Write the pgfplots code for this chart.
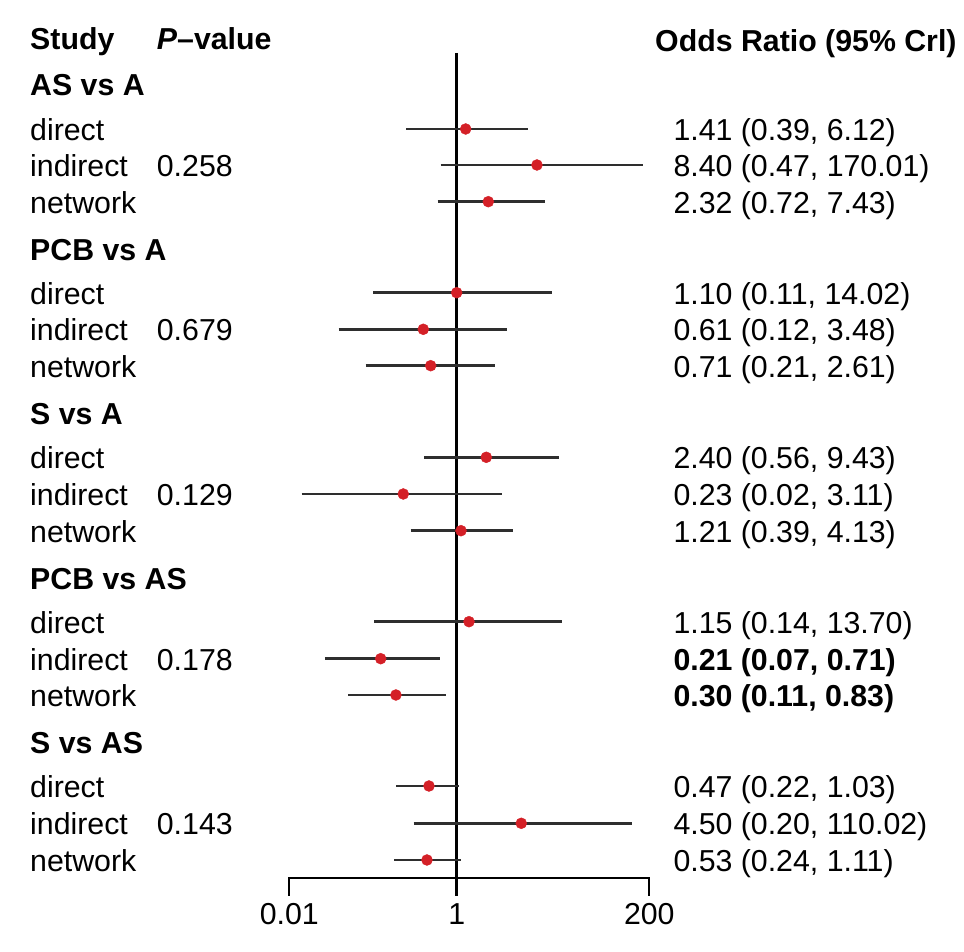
\documentclass[border=0pt]{standalone}
\usepackage{pgfplots}
\pgfplotsset{compat=1.18}
\usepackage{fontspec}
\setmainfont{Liberation Sans}
\definecolor{ptred}{HTML}{D42027}
\definecolor{cigray}{HTML}{2E2E2E}
\newcommand\f{\fontsize{30.3}{35}\selectfont}
\newcommand\T[3]{\node[anchor=base west,inner sep=0pt,font=\f] at (#1pt,{(952-#2)*1pt}) {#3};}
\newcommand\C[3]{\node[anchor=base,inner sep=0pt,font=\f] at (#1pt,{(952-#2)*1pt}) {#3};}
\begin{document}
\begin{tikzpicture}
\useasboundingbox (0,0) rectangle (964pt,952pt);
\begin{axis}[
  at={(0,0)}, anchor=south west,
  scale only axis, width=964pt, height=952pt,
  xmode=log, xmin=3.497e-6, xmax=1.151e6,
  ymin=-952, ymax=0,
  hide axis, clip=false,
  ci/.style={cigray, line width=2.7pt},
]
% reference line at OR = 1 and bottom axis
\addplot[black, line width=2.8pt] coordinates {(1,-53) (1,-896)};
\addplot[black, line width=2.4pt] coordinates {(0.01,-896) (0.01,-878.3) (200,-878.3) (200,-896)};
% AS vs A
\addplot[ci] coordinates {(0.248,-129) (7.11,-129)};
\addplot[ci] coordinates {(0.644,-165) (168.2,-165)};
\addplot[ci] coordinates {(0.593,-201.7) (11.35,-201.7)};
% PCB vs A
\addplot[ci] coordinates {(0.1008,-292.7) (13.65,-292.7)};
\addplot[ci] coordinates {(0.0389,-329.3) (3.99,-329.3)};
\addplot[ci] coordinates {(0.0818,-365.7) (2.87,-365.7)};
% S vs A
\addplot[ci] coordinates {(0.407,-457.3) (16.8,-457.3)};
\addplot[ci] coordinates {(0.01406,-494) (3.48,-494)};
\addplot[ci] coordinates {(0.282,-530.7) (4.75,-530.7)};
% PCB vs AS
\addplot[ci] coordinates {(0.1036,-621.7) (17.97,-621.7)};
\addplot[ci] coordinates {(0.0267,-658.7) (0.637,-658.7)};
\addplot[ci] coordinates {(0.0507,-695) (0.739,-695)};
% S vs AS
\addplot[ci] coordinates {(0.1898,-786) (1.074,-786)};
\addplot[ci] coordinates {(0.3064,-823.3) (125.3,-823.3)};
\addplot[ci] coordinates {(0.1797,-860) (1.126,-860)};
% point estimates
\addplot[only marks, mark=*, mark size=5.5pt, color=ptred] coordinates {
(1.28,-129) (9.10,-165) (2.385,-201.7)
(1.00,-292.7) (0.399,-329.3) (0.489,-365.7)
(2.258,-457.3) (0.230,-494) (1.126,-530.7)
(1.403,-621.7) (0.1236,-658.7) (0.188,-695)
(0.4667,-786) (5.91,-823.3) (0.4416,-860)
};
\end{axis}
% headers
\T{30}{50}{\textbf{Study}}
\T{156.7}{50}{\textbf{\textit{P}–value}}
\T{655}{52}{\textbf{Odds Ratio (95\% Crl)}}
% groups
\T{30}{96}{\textbf{AS vs A}}
\T{30}{260.5}{\textbf{PCB vs A}}
\T{30}{425}{\textbf{S vs A}}
\T{30}{589.5}{\textbf{PCB vs AS}}
\T{30}{754}{\textbf{S vs AS}}
% row labels
\T{30}{140.7}{direct}\T{30}{176.7}{indirect}\T{30}{213.4}{network}
\T{30}{304.4}{direct}\T{30}{341}{indirect}\T{30}{377.4}{network}
\T{30}{469}{direct}\T{30}{505.7}{indirect}\T{30}{542.4}{network}
\T{30}{633.4}{direct}\T{30}{670.4}{indirect}\T{30}{706.7}{network}
\T{30}{797.7}{direct}\T{30}{835}{indirect}\T{30}{871.7}{network}
% p-values
\T{156.7}{176.7}{0.258}
\T{156.7}{341}{0.679}
\T{156.7}{505.7}{0.129}
\T{156.7}{670.4}{0.178}
\T{156.7}{835}{0.143}
% estimates
\T{673.3}{140.7}{1.41 (0.39, 6.12)}
\T{673.3}{176.7}{8.40 (0.47, 170.01)}
\T{673.3}{213.4}{2.32 (0.72, 7.43)}
\T{673.3}{304.4}{1.10 (0.11, 14.02)}
\T{673.3}{341}{0.61 (0.12, 3.48)}
\T{673.3}{377.4}{0.71 (0.21, 2.61)}
\T{673.3}{469}{2.40 (0.56, 9.43)}
\T{673.3}{505.7}{0.23 (0.02, 3.11)}
\T{673.3}{542.4}{1.21 (0.39, 4.13)}
\T{673.3}{633.4}{1.15 (0.14, 13.70)}
\T{673.3}{670.4}{\textbf{0.21 (0.07, 0.71)}}
\T{673.3}{706.7}{\textbf{0.30 (0.11, 0.83)}}
\T{673.3}{797.7}{0.47 (0.22, 1.03)}
\T{673.3}{835}{4.50 (0.20, 110.02)}
\T{673.3}{871.7}{0.53 (0.24, 1.11)}
% tick labels
\C{289.3}{925}{0.01}
\C{456.7}{925}{1}
\C{649.3}{925}{200}
\end{tikzpicture}
\end{document}
